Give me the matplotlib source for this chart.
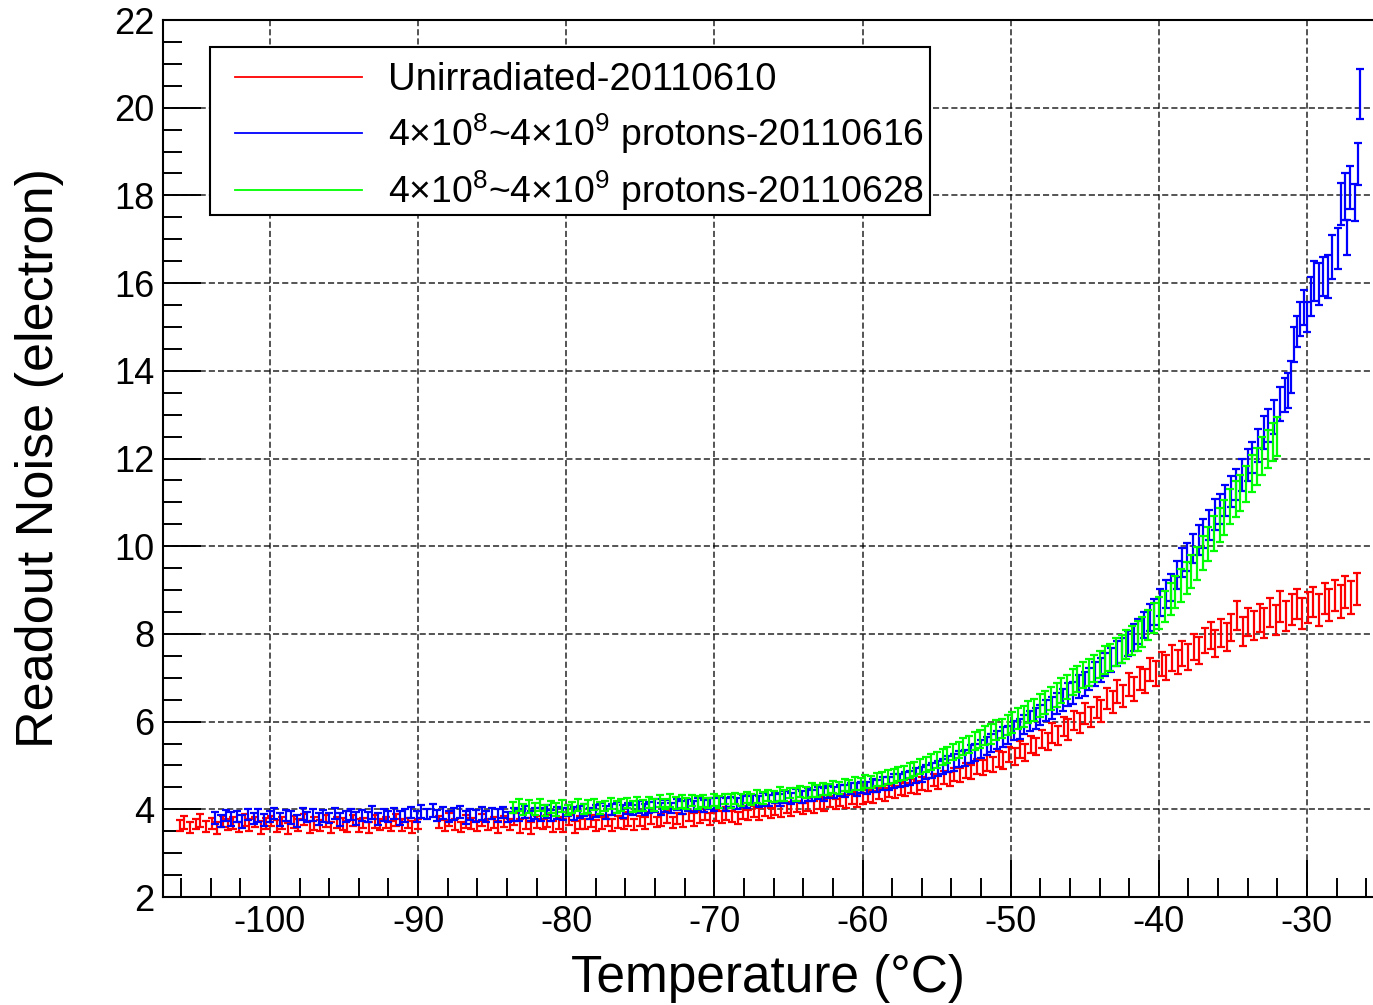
import matplotlib
matplotlib.use('Agg')
import matplotlib.pyplot as plt
from matplotlib.patches import Rectangle
from matplotlib.ticker import MultipleLocator

plt.rcParams.update({
    'font.family': ['Liberation Sans', 'DejaVu Sans'],
    'mathtext.fontset': 'custom',
    'mathtext.rm': 'Liberation Sans',
    'mathtext.it': 'Liberation Sans:italic',
    'axes.unicode_minus': False,
})

# ─── data: temperature (C), readout noise (electron), error ────────────
red_T = [
    -106.1, -105.8, -105.4, -105.0, -104.7, -104.3, -103.9, -103.6, -103.2, -102.8,
    -102.5, -102.1, -101.7, -101.4, -101.0, -100.6, -100.3, -99.9, -99.5, -99.2,
    -98.8, -98.4, -98.1, -97.7, -97.3, -97.0, -96.6, -96.2, -95.9, -95.5,
    -95.1, -94.8, -94.4, -94.0, -93.7, -93.3, -92.9, -92.6, -92.2, -91.8,
    -91.5, -91.1, -90.7, -90.4, -90.0,
    -88.6, -88.2, -87.9, -87.5, -87.1, -86.8, -86.4, -86.0, -85.7, -85.3,
    -84.9, -84.6, -84.2, -83.8, -83.5, -83.1, -82.7, -82.4, -82.0, -81.6,
    -81.3, -80.9, -80.5, -80.2, -79.8, -79.4, -79.1, -78.7, -78.3, -78.0,
    -77.6, -77.2, -76.9, -76.5, -76.1, -75.8, -75.4, -75.0, -74.7, -74.3,
    -73.9, -73.6, -73.2, -72.8, -72.5, -72.1, -71.7, -71.4, -71.0, -70.6,
    -70.3, -69.9, -69.5, -69.2, -68.8, -68.4, -68.1, -67.7, -67.3, -67.0,
    -66.6, -66.2, -65.9, -65.5, -65.1, -64.8, -64.4, -64.0, -63.7, -63.3,
    -62.9, -62.6, -62.2, -61.8, -61.5, -61.1, -60.7, -60.4, -60.0, -59.6,
    -59.3, -58.9, -58.5, -58.2, -57.8, -57.4, -57.1, -56.7, -56.3, -56.0,
    -55.6, -55.2, -54.9, -54.5, -54.1, -53.8, -53.4, -53.0, -52.7, -52.3,
    -51.9, -51.6, -51.2, -50.8, -50.5, -50.1, -49.7, -49.4, -49.0, -48.6,
    -48.3, -47.9, -47.5, -47.2, -46.8, -46.4, -46.1, -45.7, -45.3, -45.0,
    -44.6, -44.2, -43.9, -43.5, -43.1, -42.8, -42.4, -42.0, -41.7, -41.3,
    -40.9, -40.6, -40.2, -39.8, -39.5, -39.1, -38.7, -38.4, -38.0, -37.6,
    -37.3, -36.9, -36.5, -36.2, -35.8, -35.4, -35.1, -34.7, -34.3, -34.0,
    -33.6, -33.2, -32.9, -32.5, -32.1, -31.8, -31.4, -31.0, -30.7, -30.3,
    -29.9, -29.6, -29.2, -28.8, -28.5, -28.1, -27.7, -27.4, -27.0, -26.6,
]
red_N = [
    3.63, 3.70, 3.58, 3.66, 3.74, 3.61, 3.68, 3.57, 3.72, 3.65,
    3.69, 3.60, 3.76, 3.64, 3.71, 3.58, 3.67, 3.73, 3.62, 3.69,
    3.56, 3.71, 3.64, 3.77, 3.60, 3.68, 3.63, 3.74, 3.59, 3.70,
    3.66, 3.61, 3.75, 3.63, 3.69, 3.58, 3.72, 3.65, 3.70, 3.62,
    3.76, 3.64, 3.69, 3.60, 3.67,
    3.71, 3.63, 3.77, 3.66, 3.60, 3.73, 3.68, 3.62, 3.75, 3.66,
    3.70, 3.59, 3.72, 3.65, 3.78, 3.62, 3.68, 3.57, 3.71, 3.66,
    3.74, 3.61, 3.69, 3.64, 3.76, 3.60, 3.70, 3.66, 3.73, 3.63,
    3.69, 3.75, 3.64, 3.71, 3.67, 3.78, 3.66, 3.73, 3.69, 3.80,
    3.71, 3.76, 3.82, 3.70, 3.79, 3.74, 3.85, 3.77, 3.81, 3.88,
    3.78, 3.86, 3.82, 3.91, 3.84, 3.80, 3.93, 3.87, 3.95, 3.89,
    3.97, 3.92, 4.01, 3.95, 4.04, 3.99, 4.07, 4.02, 4.11, 4.05,
    4.14, 4.09, 4.18, 4.12, 4.21, 4.17, 4.26, 4.20, 4.24, 4.31,
    4.28, 4.36, 4.33, 4.42, 4.39, 4.47, 4.45, 4.53, 4.50, 4.59,
    4.57, 4.66, 4.63, 4.73, 4.70, 4.80, 4.78, 4.88, 4.86, 4.97,
    4.95, 5.06, 5.03, 5.15, 5.12, 5.25, 5.20, 5.36, 5.30, 5.48,
    5.43, 5.60, 5.55, 5.74, 5.68, 5.89, 5.82, 6.03, 5.97, 6.18,
    6.10, 6.33, 6.25, 6.52, 6.44, 6.68, 6.58, 6.84, 6.75, 6.99,
    6.92, 7.18, 7.10, 7.32, 7.24, 7.45, 7.36, 7.55, 7.48, 7.70,
    7.62, 7.85, 7.96, 7.78, 8.02, 7.92, 8.15, 8.42, 8.05, 8.28,
    8.20, 8.36, 8.24, 8.48, 8.31, 8.63, 8.40, 8.55, 8.68, 8.47,
    8.60, 8.72, 8.54, 8.80, 8.66, 8.88, 8.74, 8.95, 8.83, 9.02,
]
red_err = [
    .12, .14, .13, .12, .15, .13, .12, .14, .13, .12,
    .13, .12, .14, .13, .12, .15, .13, .12, .14, .13,
    .12, .14, .13, .12, .13, .15, .12, .14, .13, .12,
    .14, .12, .13, .15, .12, .13, .14, .12, .13, .12,
    .13, .14, .12, .13, .12,
    .13, .12, .14, .13, .12, .15, .13, .12, .14, .13,
    .12, .14, .13, .12, .13, .15, .12, .14, .13, .12,
    .14, .12, .13, .15, .12, .13, .14, .12, .13, .12,
    .13, .12, .14, .13, .12, .15, .13, .12, .14, .13,
    .12, .14, .13, .12, .13, .15, .12, .14, .13, .12,
    .14, .12, .13, .15, .12, .13, .14, .12, .13, .14,
    .13, .12, .14, .13, .12, .15, .13, .12, .14, .13,
    .13, .14, .13, .12, .14, .15, .13, .14, .13, .14,
    .14, .13, .15, .14, .13, .15, .14, .15, .14, .15,
    .15, .14, .16, .15, .16, .15, .16, .17, .16, .17,
    .17, .18, .17, .18, .19, .18, .19, .20, .19, .20,
    .20, .21, .20, .22, .21, .22, .23, .22, .23, .24,
    .23, .24, .25, .24, .25, .26, .25, .26, .27, .26,
    .27, .26, .28, .27, .28, .29, .28, .29, .30, .29,
    .30, .29, .31, .30, .31, .32, .31, .32, .33, .32,
    .33, .32, .34, .33, .34, .35, .34, .35, .34, .35,
    .35, .34, .36, .35, .36, .35, .37, .36, .37, .36,
]

blue_T = [
    -103.7, -103.3, -103.0, -102.6, -102.2, -101.9, -101.5, -101.1, -100.8, -100.4,
    -100.0, -99.7, -99.3, -98.9, -98.6, -98.2, -97.8, -97.5, -97.1, -96.7,
    -96.4, -96.0, -95.6, -95.3, -94.9, -94.5, -94.2, -93.8, -93.4, -93.1,
    -92.7, -92.3, -92.0, -91.6, -91.2, -90.9, -90.5, -90.1, -89.8, -89.4,
    -89.0, -88.7, -88.3, -87.9, -87.6, -87.2, -86.8, -86.5, -86.1, -85.7,
    -85.4, -85.0, -84.6, -84.3, -83.9, -83.5, -83.2, -82.8, -82.4, -82.1,
    -81.7, -81.3, -81.0, -80.6, -80.2, -79.9, -79.5, -79.1, -78.8, -78.4,
    -78.0, -77.7, -77.3, -76.9, -76.6, -76.2, -75.8, -75.5, -75.1, -74.7,
    -74.4, -74.0, -73.6, -73.3, -72.9, -72.5, -72.2, -71.8, -71.4, -71.1,
    -70.7, -70.3, -70.0, -69.6, -69.2, -68.9, -68.5, -68.1, -67.8, -67.4,
    -67.0, -66.7, -66.3, -65.9, -65.6, -65.2, -64.8, -64.5, -64.1, -63.7,
    -63.4, -63.0, -62.6, -62.3, -61.9, -61.5, -61.2, -60.8, -60.4, -60.1,
    -59.7, -59.3, -59.0, -58.6, -58.2, -57.9, -57.5, -57.1, -56.8, -56.4,
    -56.0, -55.7, -55.3, -54.9, -54.6, -54.2, -53.8, -53.5, -53.1, -52.7,
    -52.4, -52.0, -51.6, -51.3, -50.9, -50.5, -50.2, -49.8, -49.4, -49.1,
    -48.7, -48.3, -48.0, -47.6, -47.2, -46.9, -46.5, -46.1, -45.8, -45.4,
    -45.0, -44.7, -44.3, -43.9, -43.6, -43.2, -42.8, -42.5, -42.1, -41.7,
    -41.4, -41.0, -40.6, -40.3, -39.9, -39.5, -39.2, -38.8, -38.4, -38.1,
    -37.7, -37.3, -37.0, -36.6, -36.2, -35.9, -35.5, -35.1, -34.8, -34.4,
    -34.0, -33.7, -33.3, -32.9, -32.6, -32.2, -31.8, -31.5,
    -31.3, -31.1, -30.9, -30.7, -30.5, -30.2, -30.0, -29.7, -29.5, -29.2,
    -28.9, -28.6, -28.3, -27.9, -27.7, -27.45, -27.3, -27.1, -26.75, -26.55,
    -26.4,
]
blue_N = [
    3.80, 3.74, 3.86, 3.78, 3.83, 3.72, 3.88, 3.79, 3.85, 3.76,
    3.84, 3.90, 3.77, 3.86, 3.81, 3.73, 3.89, 3.82, 3.87, 3.78,
    3.85, 3.80, 3.91, 3.76, 3.84, 3.88, 3.79, 3.86, 3.82, 3.92,
    3.78, 3.87, 3.83, 3.90, 3.80, 3.86, 3.93, 3.84, 3.95, 3.89,
    3.97, 3.86, 3.92, 3.83, 3.89, 3.94, 3.81, 3.88, 3.85, 3.91,
    3.84, 3.90, 3.86, 3.93, 3.82, 3.89, 3.87, 3.94, 3.85, 3.91,
    3.88, 3.95, 3.86, 3.92, 3.89, 3.97, 3.90, 3.94, 3.99, 3.91,
    3.96, 4.01, 3.93, 3.99, 4.04, 3.95, 4.02, 3.98, 4.06, 4.00,
    4.04, 4.09, 4.01, 4.07, 4.03, 4.11, 4.05, 4.09, 4.06, 4.12,
    4.08, 4.13, 4.10, 4.15, 4.11, 4.17, 4.13, 4.19, 4.16, 4.21,
    4.18, 4.23, 4.20, 4.26, 4.22, 4.28, 4.25, 4.31, 4.28, 4.34,
    4.31, 4.37, 4.34, 4.40, 4.38, 4.43, 4.41, 4.47, 4.45, 4.50,
    4.49, 4.54, 4.53, 4.59, 4.58, 4.64, 4.65, 4.70, 4.72, 4.77,
    4.80, 4.84, 4.88, 4.93, 4.97, 5.03, 5.06, 5.14, 5.17, 5.26,
    5.30, 5.38, 5.44, 5.51, 5.58, 5.65, 5.70, 5.80, 5.84, 5.93,
    6.01, 6.08, 6.15, 6.25, 6.31, 6.42, 6.50, 6.61, 6.66, 6.80,
    6.86, 6.97, 7.08, 7.18, 7.30, 7.40, 7.55, 7.62, 7.78, 7.92,
    8.05, 8.20, 8.38, 8.50, 8.72, 8.90, 9.05, 9.35, 9.62, 9.75,
    9.95, 10.15, 10.30, 10.48, 10.72, 10.85, 11.05, 11.25, 11.40, 11.62,
    11.85, 12.02, 12.30, 12.60, 12.75, 12.95, 13.25, 13.45,
    13.55, 13.86, 14.60, 14.90, 15.19, 15.45, 15.23, 15.70, 16.05, 15.97,
    16.15, 16.15, 16.60, 16.79, 17.80, 17.97, 17.03, 18.18, 17.83, 18.71,
    20.31,
]
blue_err = [
    .13, .14, .12, .15, .13, .14, .12, .13, .15, .14,
    .12, .13, .14, .12, .15, .13, .14, .12, .13, .14,
    .14, .12, .13, .15, .13, .12, .14, .13, .12, .15,
    .13, .14, .12, .13, .15, .14, .12, .13, .14, .12,
    .15, .13, .14, .12, .13, .14, .14, .12, .13, .15,
    .13, .12, .14, .13, .12, .15, .13, .14, .12, .13,
    .15, .14, .12, .13, .14, .12, .15, .13, .14, .12,
    .13, .14, .14, .12, .13, .15, .13, .12, .14, .13,
    .12, .15, .13, .14, .12, .13, .15, .14, .12, .13,
    .14, .12, .15, .13, .14, .12, .13, .14, .14, .12,
    .13, .15, .13, .12, .14, .13, .12, .15, .13, .14,
    .12, .13, .15, .14, .12, .13, .14, .12, .15, .13,
    .14, .15, .14, .15, .15, .16, .15, .16, .16, .17,
    .17, .16, .17, .18, .17, .18, .19, .18, .19, .20,
    .19, .20, .21, .20, .21, .22, .21, .22, .23, .22,
    .23, .24, .23, .24, .25, .24, .25, .26, .25, .26,
    .27, .26, .27, .28, .27, .28, .29, .28, .29, .30,
    .29, .30, .31, .30, .31, .32, .31, .32, .33, .32,
    .33, .34, .33, .34, .35, .34, .35, .36, .35, .36,
    .37, .36, .37, .38, .37, .38, .39, .38,
    .40, .36, .39, .36, .39, .40, .35, .45, .46, .48,
    .45, .49, .50, .46, .48, .53, .40, .48, .42, .48,
    .57,
]

green_T = [
    -83.6, -83.2, -82.9, -82.5, -82.1, -81.8, -81.4, -81.0, -80.7, -80.3,
    -79.9, -79.6, -79.2, -78.8, -78.5, -78.1, -77.7, -77.4, -77.0, -76.6,
    -76.3, -75.9, -75.5, -75.2, -74.8, -74.4, -74.1, -73.7, -73.3, -73.0,
    -72.6, -72.2, -71.9, -71.5, -71.1, -70.8, -70.4, -70.0, -69.7, -69.3,
    -68.9, -68.6, -68.2, -67.8, -67.5, -67.1, -66.7, -66.4, -66.0, -65.6,
    -65.3, -64.9, -64.5, -64.2, -63.8, -63.4, -63.1, -62.7, -62.3, -62.0,
    -61.6, -61.2, -60.9, -60.5, -60.1, -59.8, -59.4, -59.0, -58.7, -58.3,
    -57.9, -57.6, -57.2, -56.8, -56.5, -56.1, -55.7, -55.4, -55.0, -54.6,
    -54.3, -53.9, -53.5, -53.2, -52.8, -52.4, -52.1, -51.7, -51.3, -51.0,
    -50.6, -50.2, -49.9, -49.5, -49.1, -48.8, -48.4, -48.0, -47.7, -47.3,
    -46.9, -46.6, -46.2, -45.8, -45.5, -45.1, -44.7, -44.4, -44.0, -43.6,
    -43.3, -42.9, -42.5, -42.2, -41.8, -41.4, -41.1, -40.7, -40.3, -40.0,
    -39.6, -39.2, -38.9, -38.5, -38.1, -37.8, -37.4, -37.0, -36.7, -36.3,
    -35.9, -35.6, -35.2, -34.8, -34.5, -34.1, -33.7, -33.4, -33.0, -32.6,
    -32.3, -32.0,
]
green_N = [
    4.04, 4.10, 3.99, 4.06, 4.01, 4.09, 3.97, 4.05, 4.00, 4.07,
    3.98, 4.04, 4.09, 4.01, 4.06, 4.11, 4.03, 4.08, 4.13, 4.05,
    4.10, 4.14, 4.07, 4.12, 4.08, 4.15, 4.10, 4.19, 4.12, 4.21,
    4.14, 4.18, 4.13, 4.20, 4.15, 4.19, 4.14, 4.21, 4.17, 4.23,
    4.19, 4.25, 4.21, 4.27, 4.23, 4.29, 4.26, 4.32, 4.29, 4.35,
    4.31, 4.37, 4.34, 4.41, 4.38, 4.44, 4.42, 4.47, 4.45, 4.51,
    4.49, 4.55, 4.53, 4.58, 4.57, 4.63, 4.62, 4.68, 4.69, 4.74,
    4.76, 4.81, 4.83, 4.89, 4.92, 4.98, 5.02, 5.08, 5.12, 5.19,
    5.23, 5.31, 5.35, 5.43, 5.48, 5.56, 5.60, 5.68, 5.72, 5.80,
    5.84, 5.92, 5.98, 6.06, 6.12, 6.21, 6.27, 6.36, 6.43, 6.53,
    6.60, 6.71, 6.79, 6.90, 6.97, 7.06, 7.12, 7.22, 7.30, 7.40,
    7.47, 7.58, 7.66, 7.76, 7.86, 7.95, 8.05, 8.20, 8.36, 8.48,
    8.62, 8.80, 8.95, 9.10, 9.28, 9.42, 9.60, 9.85, 10.05, 10.28,
    10.48, 10.66, 10.90, 11.08, 11.22, 11.42, 11.65, 11.82, 12.05, 12.22,
    12.38, 12.50,
]
green_err = [
    .13, .14, .12, .15, .13, .14, .12, .13, .15, .14,
    .12, .13, .14, .12, .15, .13, .14, .12, .13, .14,
    .14, .12, .13, .15, .13, .12, .14, .13, .12, .15,
    .13, .14, .12, .13, .15, .14, .12, .13, .14, .12,
    .15, .13, .14, .12, .13, .14, .14, .12, .13, .15,
    .13, .12, .14, .13, .12, .15, .13, .14, .12, .13,
    .14, .13, .14, .15, .14, .15, .14, .15, .15, .16,
    .15, .16, .16, .17, .16, .17, .17, .18, .18, .19,
    .18, .19, .19, .20, .20, .21, .21, .22, .22, .23,
    .22, .23, .23, .24, .24, .25, .25, .26, .26, .27,
    .27, .28, .28, .29, .29, .30, .30, .31, .31, .32,
    .31, .32, .32, .33, .33, .34, .34, .35, .35, .36,
    .35, .36, .36, .37, .37, .38, .38, .39, .39, .40,
    .39, .40, .40, .41, .41, .42, .42, .43, .43, .44,
    .44, .45,
]

labels = [
    'Unirradiated-20110610',
    '4×10$^{8}$~4×10$^{9}$ protons-20110616',
    '4×10$^{8}$~4×10$^{9}$ protons-20110628',
]
colors = ['#ff0000', '#0000ff', '#00ff00']

W, H = 1373, 1005
AX_L, AX_R, AX_T, AX_B = 163, 1373, 20, 897

fig = plt.figure(figsize=(W / 100, H / 100), dpi=100)
ax = fig.add_axes([AX_L / W, 1 - AX_B / H, (AX_R - AX_L) / W, (AX_B - AX_T) / H])


def px(x, y):
    """pixel position in the image -> axes fraction"""
    return (x - AX_L) / (AX_R - AX_L), (AX_B - y) / (AX_B - AX_T)


series = [(red_T, red_N, red_err), (blue_T, blue_N, blue_err), (green_T, green_N, green_err)]
for i, (t, n, e) in enumerate(series):
    ax.errorbar(t, n, yerr=e, fmt='none', ecolor=colors[i], elinewidth=1.6,
                capsize=3, capthick=1.6, zorder=3 + i)

ax.set_xlim(-107.22, -25.54)
ax.set_ylim(2, 22)
ax.xaxis.set_major_locator(MultipleLocator(10))
ax.xaxis.set_minor_locator(MultipleLocator(2))
ax.yaxis.set_major_locator(MultipleLocator(2))
ax.yaxis.set_minor_locator(MultipleLocator(0.5))
ax.tick_params(which='both', direction='in', top=False, right=False,
               width=1.4, labelsize=26, pad=6)
ax.tick_params(which='major', length=27)
ax.tick_params(which='minor', length=14)
ax.spines['right'].set_visible(False)
for s in ('left', 'bottom', 'top'):
    ax.spines[s].set_linewidth(1.5)

ax.grid(True, which='major', color='black', alpha=0.85, lw=1.1,
        linestyle=(0, (4, 2)))
ax.set_axisbelow(True)

ax.set_xlabel('Temperature (°C)', fontsize=37, labelpad=10)
ax.set_ylabel('Readout Noise (electron)', fontsize=37.5, labelpad=36)

# legend box drawn by hand (ROOT TLegend look)
x0, y0 = px(210, 215)
x1, y1 = px(930, 47)
ax.add_patch(Rectangle((x0, y0), x1 - x0, y1 - y0, transform=ax.transAxes,
                       facecolor='white', edgecolor='black', lw=1.5, zorder=10))
for row_y, c, lab, fs in zip([77, 133, 190], colors, labels, [27.5, 26.9, 26.9]):
    lx0, ly = px(235, row_y)
    lx1, _ = px(362, row_y)
    ax.plot([lx0, lx1], [ly, ly], color=c, lw=1.3, transform=ax.transAxes,
            zorder=11, clip_on=False)
    tx, ty = px(388, row_y + 13)
    ax.text(tx, ty, lab, fontsize=fs, va='baseline', ha='left',
            transform=ax.transAxes, zorder=11)

fig.savefig('out.png', dpi=100)
